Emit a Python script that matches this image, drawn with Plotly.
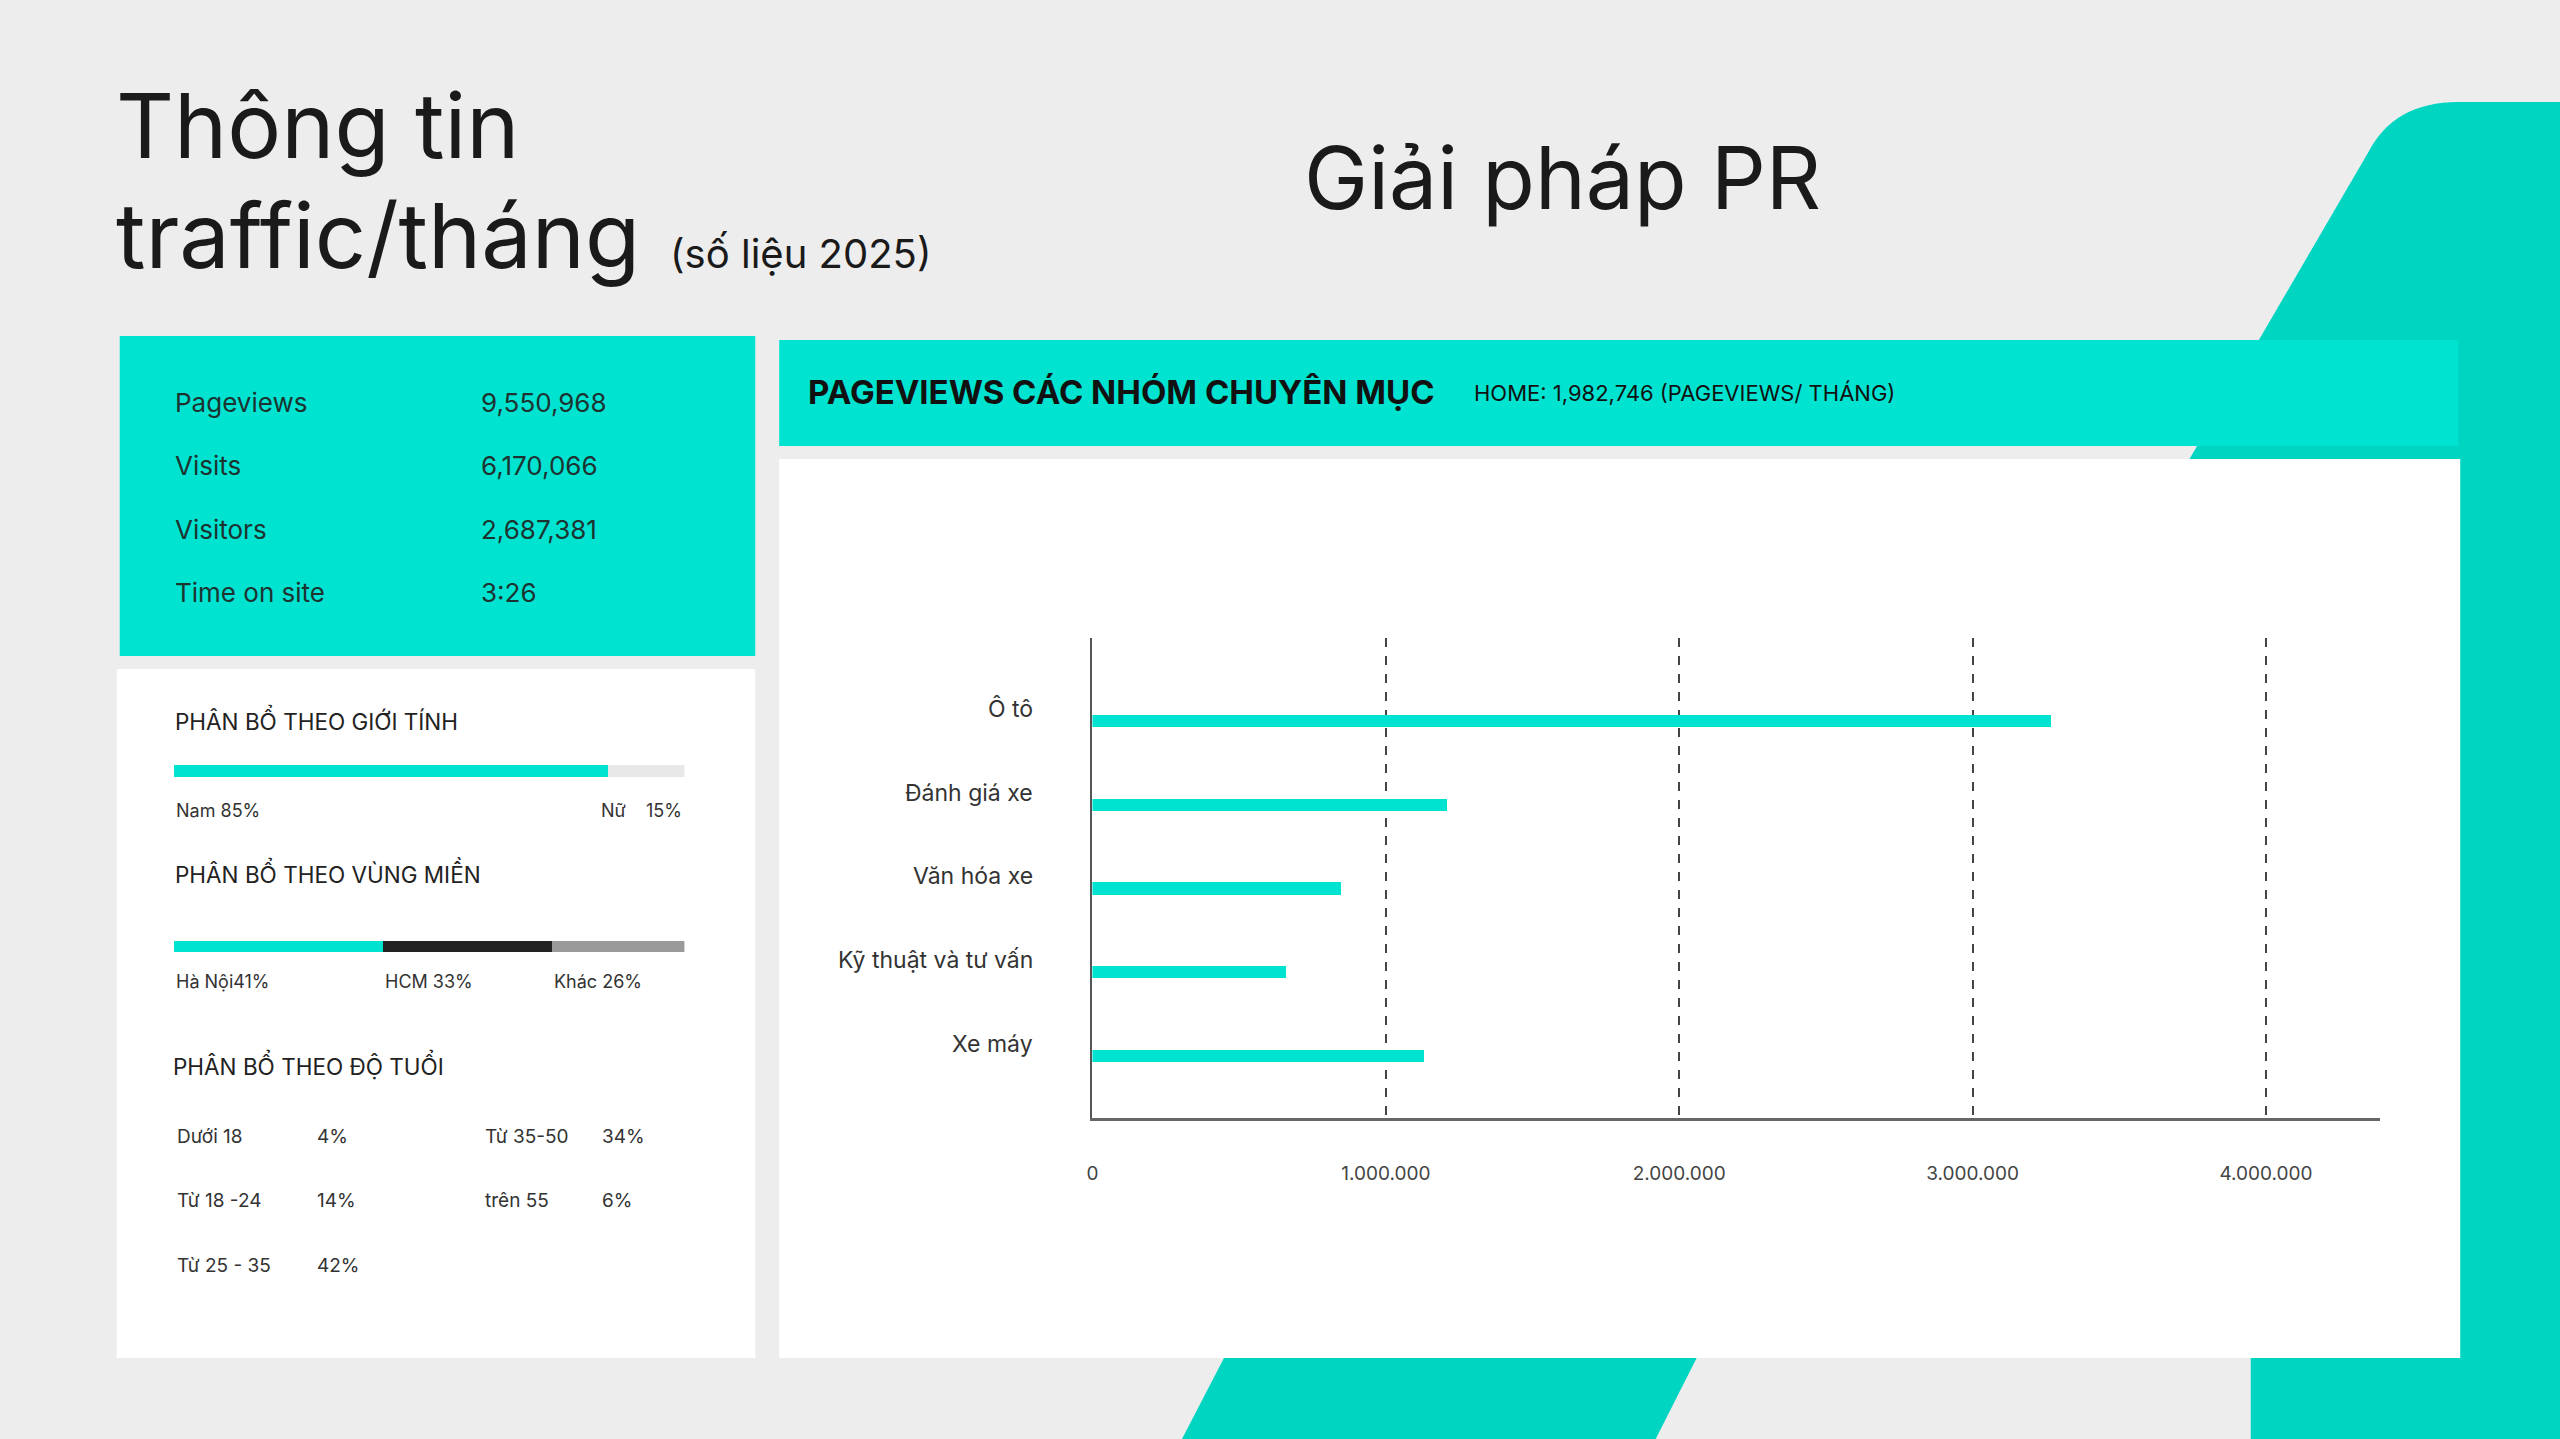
import plotly.graph_objects as go

# ---------------- data ----------------
title_lines = ["Thông tin", "traffic/tháng"]
title_note = "(số liệu 2025)"
right_title = "Giải pháp PR"

stat_labels = ["Pageviews", "Visits", "Visitors", "Time on site"]
stat_values = ["9,550,968", "6,170,066", "2,687,381", "3:26"]

gender_heading = "PHÂN BỔ THEO GIỚI TÍNH"
gender_labels = ["Nam", "Nữ"]
gender_values = [85, 15]

region_heading = "PHÂN BỔ THEO VÙNG MIỀN"
region_labels = ["Hà Nội", "HCM ", "Khác "]
region_values = [41, 33, 26]

age_heading = "PHÂN BỔ THEO ĐỘ TUỔI"
age_labels = ["Dưới 18", "Từ 18 -24", "Từ 25 - 35", "Từ 35-50", "trên 55"]
age_values = [4, 14, 42, 34, 6]

chart_title = "PAGEVIEWS CÁC NHÓM CHUYÊN MỤC"
chart_subtitle = "HOME: 1,982,746 (PAGEVIEWS/ THÁNG)"
categories = ["Ô tô", "Đánh giá xe", "Văn hóa xe", "Kỹ thuật và tư vấn", "Xe máy"]
pageviews = [3270000, 1210000, 850000, 660000, 1130000]
x_ticks = [0, 1000000, 2000000, 3000000, 4000000]

# ---------------- styling helpers ----------------
W, H = 2560, 1439
def px(x): return x / W
def py(y): return 1 - y / H

TEAL = "#00E3D0"
TEAL_DARK = "#00D5C2"
BG = "#EDEDED"
FONT = "Inter"

fig = go.Figure()

# main horizontal bar chart
fig.add_trace(go.Bar(x=pageviews, y=categories, orientation="h", width=0.145,
                     marker=dict(color=TEAL, line=dict(width=0)),
                     xaxis="x", yaxis="y", hoverinfo="skip", showlegend=False))

# gender stacked bar
gender_colors = [TEAL, "#E8E8E8"]
for lab, v, c in zip(gender_labels, gender_values, gender_colors):
    fig.add_trace(go.Bar(x=[v], y=[0], orientation="h", width=1,
                         marker=dict(color=c, line=dict(width=0)),
                         xaxis="x2", yaxis="y2", hoverinfo="skip", showlegend=False))

# region stacked bar
region_colors = [TEAL, "#222222", "#9A9A9A"]
for lab, v, c in zip(region_labels, region_values, region_colors):
    fig.add_trace(go.Bar(x=[v], y=[0], orientation="h", width=1,
                         marker=dict(color=c, line=dict(width=0)),
                         xaxis="x3", yaxis="y3", hoverinfo="skip", showlegend=False))

# ---------------- background shapes ----------------
shapes = []
deco_path = (f"M {px(2560)},{py(102)} L {px(2458)},{py(102)} "
             f"Q {px(2394)},{py(102)} {px(2368)},{py(152)} "
             f"L {px(2153)},{py(520)} L {px(2560)},{py(520)} Z")
shapes.append(dict(type="path", path=deco_path, xref="paper", yref="paper",
                   fillcolor=TEAL_DARK, line=dict(width=0), layer="below"))
shapes.append(dict(type="rect", xref="paper", yref="paper", x0=px(2250), x1=px(2560),
                   y0=py(1450), y1=py(515), fillcolor=TEAL_DARK, line=dict(width=0), layer="below"))
bottom_path = (f"M {px(1251)},{py(1300)} L {px(1724)},{py(1300)} "
               f"L {px(1648)},{py(1450)} L {px(1173)},{py(1450)} Z")
shapes.append(dict(type="path", path=bottom_path, xref="paper", yref="paper",
                   fillcolor=TEAL_DARK, line=dict(width=0), layer="below"))

def rect(x0, y0, x1, y1, color):
    return dict(type="rect", xref="paper", yref="paper", x0=px(x0), x1=px(x1),
                y0=py(y1), y1=py(y0), fillcolor=color, line=dict(width=0), layer="below")

shapes.append(rect(114, 336, 751, 656, TEAL))
shapes.append(rect(111, 669, 751, 1358, "#FFFFFF"))
shapes.append(rect(775, 340, 2458, 446, TEAL))
shapes.append(rect(775, 459, 2460, 1358, "#FFFFFF"))

# ---------------- text annotations ----------------
ann = []
def text(t, x, baseline, size, color="#1a1a1a", anchor="left", weight=400, xref="paper"):
    xv = px(x) if xref == "paper" else x
    ann.append(dict(text=t, x=xv, y=py(baseline - 0.36 * size), xref=xref, yref="paper",
                    xanchor=anchor, yanchor="middle", showarrow=False,
                    font=dict(family=FONT, size=size, color=color, weight=weight)))

text(title_lines[0], 108, 158, 90)
text(title_lines[1], 108, 268, 90)
text(title_note, 664, 268, 40)
text(right_title, 1299, 209, 86)

for i, (lab, val) in enumerate(zip(stat_labels, stat_values)):
    b = 412 + i * 63.3
    text(lab, 167, b, 26, "#1d3330")
    text(val, 474, b, 26, "#1d3330")

text(gender_heading, 167, 728, 22.5, "#222")
text(f"{gender_labels[0]} {gender_values[0]}%", 0, 817, 18, "#333", xref="x2")
text(f"{gender_labels[1]}\u00a0\u00a0\u00a0\u00a0{gender_values[1]}%", 100, 817, 18, "#333",
     anchor="right", xref="x2")

text(region_heading, 167, 881, 22.5, "#222")
cum = 0
for lab, v in zip(region_labels, region_values):
    text(f"{lab}{v}%", cum, 988, 18, "#333", xref="x3")
    cum += v

text(age_heading, 165, 1073, 22.5, "#222")
for i, (lab, v) in enumerate(zip(age_labels, age_values)):
    col, row = divmod(i, 3)
    b = 1143 + row * 64.5
    text(lab, [169, 478][col], b, 19, "#333")
    text(f"{v}%", [310, 595][col], b, 19, "#333")

text(chart_title, 802, 404, 33, "#111", weight=700)
text(chart_subtitle, 1469, 401, 22, "#111")

for cat in categories:
    ann.append(dict(text=cat, x=px(1031), y=cat, xref="paper", yref="y",
                    xanchor="right", yanchor="middle", yshift=12, showarrow=False,
                    font=dict(family=FONT, size=23, color="#333")))

# ---------------- layout ----------------
fig.update_layout(
    width=W, height=H, margin=dict(l=0, r=0, t=0, b=0),
    paper_bgcolor=BG, plot_bgcolor="rgba(0,0,0,0)",
    barmode="stack", bargap=0, showlegend=False,
    separators=",.",
    font=dict(family=FONT),
    shapes=shapes, annotations=ann,
    xaxis=dict(domain=[px(1089), px(2380)], range=[0, 4390000], anchor="y",
               tickvals=x_ticks, tickformat=",d", ticks="", ticklabelstandoff=36,
               tickfont=dict(family=FONT, size=19, color="#444"),
               showgrid=True, gridcolor="#444", gridwidth=1.5, griddash="dash",
               showline=True, linecolor="#666", linewidth=3, zeroline=False, fixedrange=True),
    yaxis=dict(domain=[py(1118), py(638)], type="category",
               categoryorder="array", categoryarray=categories[::-1],
               range=[-0.74, 4.99], anchor="x", showticklabels=False, ticks="",
               showgrid=False, showline=True, linecolor="#555", linewidth=2,
               zeroline=False, fixedrange=True),
    xaxis2=dict(domain=[px(168), px(680)], range=[0, 100], anchor="y2", visible=False, fixedrange=True),
    yaxis2=dict(domain=[py(777), py(765)], range=[-0.5, 0.5], anchor="x2", visible=False, fixedrange=True),
    xaxis3=dict(domain=[px(168), px(680)], range=[0, 100], anchor="y3", visible=False, fixedrange=True),
    yaxis3=dict(domain=[py(952), py(941)], range=[-0.5, 0.5], anchor="x3", visible=False, fixedrange=True),
)

fig.write_html("out.html", config={"displayModeBar": False},
               post_script="document.body.style.margin='0';document.body.style.overflow='hidden';")
